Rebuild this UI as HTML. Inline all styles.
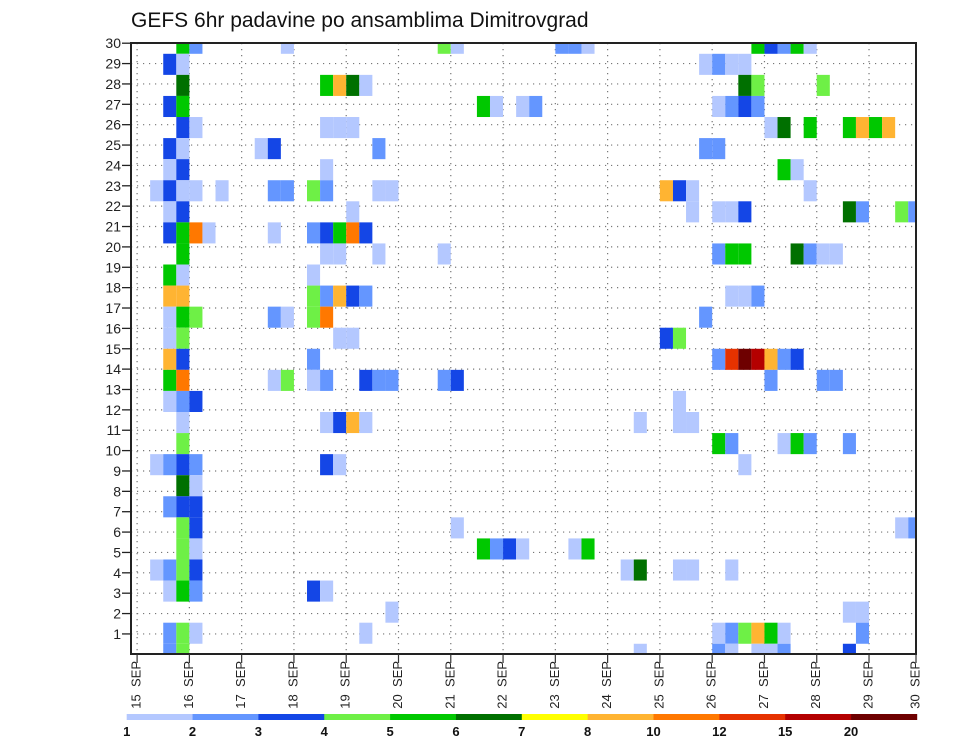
<!DOCTYPE html>
<html><head><meta charset="utf-8"><title>GEFS 6hr padavine</title>
<style>html,body{margin:0;padding:0;background:#fff;}svg{display:block;font-family:"Liberation Sans",sans-serif;}</style>
</head><body>
<svg id="chart" width="960" height="742" viewBox="0 0 960 742" xmlns="http://www.w3.org/2000/svg">
<text x="131" y="27" font-size="21" fill="#111">GEFS 6hr padavine po ansamblima Dimitrovgrad</text>
<defs><clipPath id="plotclip"><rect x="131" y="43" width="785" height="611"/></clipPath></defs>
<g id="grid"></g>
<g id="cells" clip-path="url(#plotclip)"></g>
<rect x="131" y="43" width="785" height="611" fill="none" stroke="#222" stroke-width="2"/>
<g id="yaxis"></g>
<g id="legend"></g>
<g id="xaxis"></g>
</svg>
<script>
// data: member index (0 = bottom), 6-hour step index, precipitation value (mm)
const cellMember = [
29,29,29,29,29,29,29,29,29,29,29,29,29,
28,28,28,28,28,28,
27,27,27,27,27,27,27,27,
26,26,26,26,26,26,26,26,26,26,
25,25,25,25,25,25,25,25,25,25,25,25,
24,24,24,24,24,24,24,
23,23,23,23,23,
22,22,22,22,22,22,22,22,22,22,22,22,22,22,22,
21,21,21,21,21,21,21,21,21,21,21,
20,20,20,20,20,20,20,20,20,20,
19,19,19,19,19,19,19,19,19,19,19,19,
18,18,18,
17,17,17,17,17,17,17,17,17,17,
16,16,16,16,16,16,16,16,
15,15,15,15,15,15,
14,14,14,14,14,14,14,14,14,14,
13,13,13,13,13,13,13,13,13,13,13,13,13,13,
12,12,12,12,
11,11,11,11,11,11,11,11,
10,10,10,10,10,10,10,
9,9,9,9,9,9,9,
8,8,
7,7,7,
6,6,6,6,6,
5,5,5,5,5,5,5,5,
4,4,4,4,4,4,4,4,4,
3,3,3,3,3,
2,2,2,
1,1,1,1,1,1,1,1,1,1,1,
0,0,0,0,0,0,0,0,0];
const cellStep = [
3,4,11,23,24,32,33,34,47,48,49,50,51,
2,3,43,44,45,46,
3,14,15,16,17,46,47,52,
2,3,26,27,29,30,44,45,46,47,
3,4,14,15,16,48,49,51,54,55,56,57,
2,3,9,10,18,43,44,
2,3,14,49,50,
1,2,3,4,6,10,11,13,14,18,19,40,41,42,51,
2,3,16,42,44,45,46,54,55,58,59,
2,3,4,5,10,13,14,15,16,17,
3,14,15,18,23,44,45,46,50,51,52,53,
2,3,13,
2,3,13,14,15,16,17,45,46,47,
2,3,4,10,11,13,14,43,
2,3,15,16,40,41,
2,3,13,44,45,46,47,48,49,50,
2,3,10,11,13,14,17,18,19,23,24,48,52,53,
2,3,4,41,
3,14,15,16,17,38,41,42,
3,44,45,49,50,51,54,
1,2,3,4,14,15,46,
3,4,
2,3,4,
3,4,24,58,59,
3,4,26,27,28,29,33,34,
1,2,3,4,37,38,41,42,45,
2,3,4,13,14,
19,54,55,
2,3,4,17,44,45,46,47,48,49,55,
2,3,38,44,45,47,48,49,54];
const cellValue = [
5.5,2.5,1.5,4.5,1.5,2.5,2.5,1.5,5.5,3.5,2.5,5.5,1.5,
3.5,1.5,1.5,2.5,1.5,1.5,
6.5,5.5,9,6.5,1.5,6.5,4.5,4.5,
3.5,5.5,5.5,1.5,1.5,2.5,1.5,2.5,3.5,2.5,
3.5,1.5,1.5,1.5,1.5,1.5,6.5,5.5,5.5,9,5.5,9,
3.5,1.5,1.5,3.5,2.5,2.5,2.5,
1.5,3.5,1.5,5.5,1.5,
1.5,3.5,1.5,1.5,1.5,2.5,2.5,4.5,2.5,1.5,1.5,9,3.5,1.5,1.5,
1.5,3.5,1.5,1.5,1.5,1.5,3.5,6.5,2.5,4.5,2.5,
3.5,5.5,11,1.5,1.5,2.5,3.5,5.5,11,3.5,
5.5,1.5,1.5,1.5,1.5,2.5,5.5,5.5,6.5,2.5,1.5,1.5,
5.5,1.5,1.5,
9,9,4.5,2.5,9,3.5,2.5,1.5,1.5,2.5,
1.5,5.5,4.5,2.5,1.5,4.5,11,2.5,
1.5,4.5,1.5,1.5,3.5,4.5,
9,3.5,2.5,2.5,13,25,17,9,2.5,3.5,
5.5,11,1.5,4.5,1.5,2.5,3.5,2.5,2.5,2.5,3.5,2.5,2.5,2.5,
1.5,2.5,3.5,1.5,
1.5,1.5,3.5,9,1.5,1.5,1.5,1.5,
4.5,5.5,2.5,1.5,5.5,2.5,2.5,
1.5,2.5,3.5,2.5,3.5,1.5,1.5,
6.5,1.5,
2.5,3.5,3.5,
4.5,3.5,1.5,1.5,2.5,
4.5,1.5,5.5,2.5,3.5,1.5,1.5,5.5,
1.5,2.5,4.5,3.5,1.5,6.5,1.5,1.5,1.5,
1.5,5.5,2.5,3.5,1.5,
1.5,1.5,1.5,
2.5,4.5,1.5,1.5,1.5,2.5,4.5,9,5.5,1.5,2.5,
2.5,4.5,1.5,2.5,1.5,1.5,1.5,2.5,3.5];
const levels = [1,2,3,4,5,6,7,8,10,12,15,20];
const levelColors = ["#b4c8ff","#6496ff","#1446e6","#6ef046","#00c800","#007000","#ffff00","#ffb432","#ff7800","#e63200","#b40000","#6e0000"];
const yTickLabels = [1,2,3,4,5,6,7,8,9,10,11,12,13,14,15,16,17,18,19,20,21,22,23,24,25,26,27,28,29,30];
const dayLabels = [15,16,17,18,19,20,21,22,23,24,25,26,27,28,29,30];

const NS = "http://www.w3.org/2000/svg";
const PL = 131, PR = 916, PT = 43, PB = 654.3;
function X(step){ return 137.1 + 13.07*step; }
function cellY(member){ return PB - member*21.07; }
function tickY(v){ return PB - v*20.37; }
function dayX(d){ return Math.min(X((d-15)*4), PR); }
function colorFor(v){ let i=0; for(let a=0;a<levels.length;a++){ if(v>=levels[a]) i=a; } return levelColors[i]; }
function mk(tag, attrs, parent){ const e=document.createElementNS(NS,tag); for(const k in attrs) e.setAttribute(k,attrs[k]); parent.appendChild(e); return e; }

const grid = document.getElementById('grid');
for (const v of yTickLabels) {
  if (v >= 30) continue;
  const l = mk('line',{x1:PL,x2:PR,y1:tickY(v),y2:tickY(v),stroke:'#777','stroke-width':1.2,'stroke-dasharray':'1.2,4.8'},grid);
  
  
}
for (const d of dayLabels) {
  if (d >= 30) continue;
  const l = mk('line',{x1:dayX(d),x2:dayX(d),y1:PT,y2:PB,stroke:'#777','stroke-width':1.2,'stroke-dasharray':'1.2,4.8'},grid);
  
  
}

const cells = document.getElementById('cells');
for (let i=0;i<cellValue.length;i++){
  const x0=X(cellStep[i]), x1=X(cellStep[i]+1);
  const yc=cellY(cellMember[i]);
  const r = mk('rect',{x:x0,y:yc-10.535,width:x1-x0,height:21.07,fill:colorFor(cellValue[i])},cells);
  
  
}

const yaxis = document.getElementById('yaxis');
for (const v of yTickLabels){
  const y=tickY(v);
  const t = mk('line',{x1:122,x2:PL,y1:y,y2:y,stroke:'#222','stroke-width':1.3},yaxis);
  
  
  const tx = mk('text',{x:121,y:y+5,'font-size':14,'text-anchor':'end',fill:'#222'},yaxis);
  tx.textContent = v;
  
  
}

const legend = document.getElementById('legend');
const LX0=126.7, LW=65.85;
for (let i=0;i<levels.length;i++){
  const r = mk('rect',{x:LX0+i*LW,y:714,width:LW+0.3,height:6,fill:levelColors[i]},legend);
  
  
  const tx = mk('text',{x:LX0+i*LW,y:736,'font-size':13,'font-weight':'bold','text-anchor':'middle',fill:'#111'},legend);
  tx.textContent = levels[i];
  
  
}

const xaxis = document.getElementById('xaxis');
for (const d of dayLabels){
  const x=dayX(d);
  const t = mk('line',{x1:x,x2:x,y1:PB,y2:663,stroke:'#333','stroke-width':1.2},xaxis);
  
  
  const lx = x-1, ly=661;
  const tx = mk('text',{x:lx,y:ly,'font-size':13,'text-anchor':'end','dominant-baseline':'central',transform:'rotate(-90 '+lx+' '+ly+')',fill:'#222'},xaxis);
  tx.textContent = d + '\u00a0\u00a0SEP';
  
  
}
</script>
</body></html>
